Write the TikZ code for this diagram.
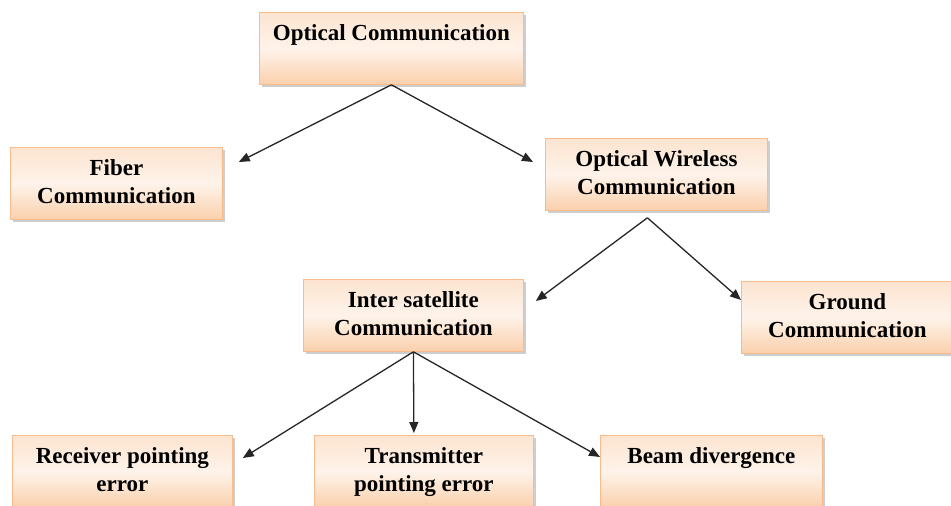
\documentclass[tikz,border=0pt]{standalone}
\usepackage{fontspec}
\setmainfont{Liberation Serif}
\usetikzlibrary{arrows.meta,shadows}

\definecolor{boxtop}{RGB}{252,228,208}
\definecolor{boxmid}{RGB}{254,243,234}
\definecolor{boxbot}{RGB}{250,208,172}
\definecolor{boxline}{RGB}{248,188,140}

\tikzset{
  block/.style={draw=boxline, line width=0.8pt, anchor=north west,
    top color=boxtop, bottom color=boxbot, middle color=boxmid,
    minimum height=72pt, inner sep=0pt, align=center,
    font=\fontsize{23}{28}\selectfont\bfseries,
    drop shadow={shadow xshift=3pt, shadow yshift=-3pt, fill=black!35, opacity=0.55}},
  link/.style={-{Triangle[length=11pt,width=9pt]}, line width=1.3pt, black!85}
}

\begin{document}
\begin{tikzpicture}[x=1pt,y=-1pt]
\useasboundingbox (0,0) rectangle (951,506);
\clip (0,0) rectangle (951,506);

\node[block, minimum width=264pt] (oc) at (259,12) {\strut Optical Communication\\ \strut};
\node[block, minimum width=212pt] (fib) at (10,147) {\strut Fiber\\ \strut Communication};
\node[block, minimum width=222pt] (ow) at (545,138) {\strut Optical Wireless\\ \strut Communication};
\node[block, minimum width=220pt] (isat) at (303,279) {\strut Inter satellite\\ \strut Communication};
\node[block, minimum width=212pt] (gr) at (741,281) {\strut Ground\\ \strut Communication};
\node[block, minimum width=220pt] (rec) at (12,435) {\strut Receiver pointing\\ \strut error};
\node[block, minimum width=219pt] (tr) at (314,435) {\strut Transmitter\\ \strut pointing error};
\node[block, minimum width=222pt] (bd) at (600,435) {\strut Beam divergence\\ \strut};

% first level
\draw[link] (oc.south) -- ([shift={(16,15)}]fib.north east);
\draw[link] (oc.south) -- ([shift={(-12,24)}]ow.north west);

% wireless
\draw[link] ([shift={(-9,7)}]ow.south) -- ([shift={(12,22)}]isat.north east);
\draw[link] ([shift={(-9,7)}]ow.south) -- ([shift={(0,19)}]gr.north west);

% inter satellite
\draw[link] (isat.south) -- ([shift={(10,23)}]rec.north east);
\draw[link] (isat.south) -- ([shift={(-10,-2)}]tr.north);
\draw[link] (isat.south) -- ([shift={(0,22)}]bd.north west);

\end{tikzpicture}
\end{document}
